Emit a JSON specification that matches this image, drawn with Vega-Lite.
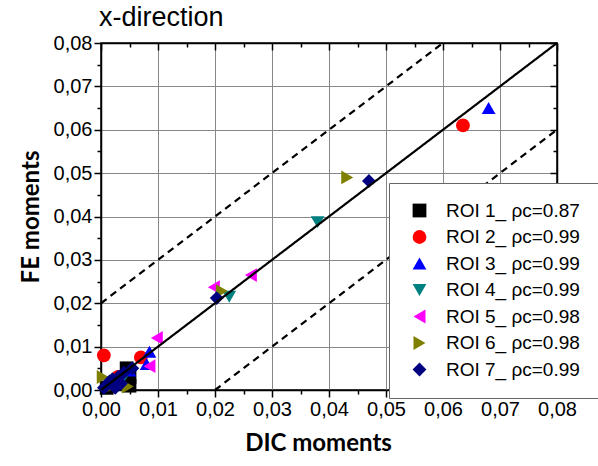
{
  "$schema": "https://vega.github.io/schema/vega-lite/v6.json",
  "width": 456,
  "height": 347,
  "autosize": {"type": "none"},
  "padding": {"left": 101, "top": 43, "right": 41, "bottom": 76},
  "title": {"text": "x-direction", "anchor": "start", "frame": "group", "font": "Liberation Sans", "fontSize": 27, "fontWeight": "normal", "offset": 12, "dy": 11, "dx": -2, "color": "#000"},
  "config": {
    "view": {"stroke": "#000", "strokeWidth": 1.5},
    "axis": {
      "labelFont": "Liberation Sans",
      "labelFontSize": 20,
      "labelColor": "#000",
      "labelFlush": false,
      "domainColor": "#000",
      "domainWidth": 1.5,
      "tickColor": "#000",
      "tickWidth": 1.5,
      "gridColor": "#888",
      "gridWidth": 1,
      "titleFont": "Lato",
      "titleFontSize": 24,
      "titleFontWeight": "bold",
      "titleColor": "#000"
    }
  },
  "datasets": {
    "pts": [
      {"roi": "ROI 1_ ρc=0.87", "dic": 0.001, "fe": 0.0005},
      {"roi": "ROI 1_ ρc=0.87", "dic": 0.002, "fe": 0.0015},
      {"roi": "ROI 1_ ρc=0.87", "dic": 0.003, "fe": 0.002},
      {"roi": "ROI 1_ ρc=0.87", "dic": 0.0045, "fe": 0.005},
      {"roi": "ROI 1_ ρc=0.87", "dic": 0.005, "fe": 0.003},
      {"roi": "ROI 1_ ρc=0.87", "dic": 0.005, "fe": 0.001},
      {"roi": "ROI 2_ ρc=0.99", "dic": 0.0005, "fe": 0.008},
      {"roi": "ROI 2_ ρc=0.99", "dic": 0.007, "fe": 0.0075},
      {"roi": "ROI 2_ ρc=0.99", "dic": 0.0635, "fe": 0.061},
      {"roi": "ROI 2_ ρc=0.99", "dic": 0.003, "fe": 0.003},
      {"roi": "ROI 3_ ρc=0.99", "dic": 0.068, "fe": 0.065},
      {"roi": "ROI 3_ ρc=0.99", "dic": 0.0085, "fe": 0.0088},
      {"roi": "ROI 3_ ρc=0.99", "dic": 0.008, "fe": 0.006},
      {"roi": "ROI 3_ ρc=0.99", "dic": 0.005, "fe": 0.0045},
      {"roi": "ROI 3_ ρc=0.99", "dic": 0.002, "fe": 0.002},
      {"roi": "ROI 4_ ρc=0.99", "dic": 0.038, "fe": 0.0387},
      {"roi": "ROI 4_ ρc=0.99", "dic": 0.0225, "fe": 0.0215},
      {"roi": "ROI 4_ ρc=0.99", "dic": 0.004, "fe": 0.003},
      {"roi": "ROI 4_ ρc=0.99", "dic": 0.002, "fe": 0.0015},
      {"roi": "ROI 5_ ρc=0.98", "dic": 0.0263, "fe": 0.0265},
      {"roi": "ROI 5_ ρc=0.98", "dic": 0.0198, "fe": 0.0237},
      {"roi": "ROI 5_ ρc=0.98", "dic": 0.0098, "fe": 0.012},
      {"roi": "ROI 5_ ρc=0.98", "dic": 0.0085, "fe": 0.0055},
      {"roi": "ROI 5_ ρc=0.98", "dic": 0.003, "fe": 0.002},
      {"roi": "ROI 6_ ρc=0.98", "dic": 0.0432, "fe": 0.049},
      {"roi": "ROI 6_ ρc=0.98", "dic": 0.0212, "fe": 0.0228},
      {"roi": "ROI 6_ ρc=0.98", "dic": 0.0047, "fe": 0.0008},
      {"roi": "ROI 6_ ρc=0.98", "dic": 0.0003, "fe": 0.003},
      {"roi": "ROI 6_ ρc=0.98", "dic": 0.002, "fe": 0.001},
      {"roi": "ROI 7_ ρc=0.99", "dic": 0.047, "fe": 0.0482},
      {"roi": "ROI 7_ ρc=0.99", "dic": 0.0203, "fe": 0.0212},
      {"roi": "ROI 7_ ρc=0.99", "dic": 0.0005, "fe": 0.0005},
      {"roi": "ROI 7_ ρc=0.99", "dic": 0.001, "fe": 0.001},
      {"roi": "ROI 7_ ρc=0.99", "dic": 0.0015, "fe": 0.002},
      {"roi": "ROI 7_ ρc=0.99", "dic": 0.002, "fe": 0.0025},
      {"roi": "ROI 7_ ρc=0.99", "dic": 0.003, "fe": 0.003},
      {"roi": "ROI 7_ ρc=0.99", "dic": 0.0035, "fe": 0.0015},
      {"roi": "ROI 7_ ρc=0.99", "dic": 0.0025, "fe": 0.0005},
      {"roi": "ROI 7_ ρc=0.99", "dic": 0.004, "fe": 0.004},
      {"roi": "ROI 7_ ρc=0.99", "dic": 0.0055, "fe": 0.005}
    ],
    "lines": [
      {"kind": "solid", "x": 0, "y": 0, "x2": 0.08, "y2": 0.08},
      {"kind": "dashed", "x": 0, "y": 0.02, "x2": 0.06, "y2": 0.08},
      {"kind": "dashed", "x": 0.02, "y": 0, "x2": 0.08, "y2": 0.06}
    ]
  },
  "layer": [
    {
      "data": {"name": "pts"},
      "mark": {"type": "point", "filled": true, "opacity": 1, "size": 190, "clip": false},
      "encoding": {
        "x": {
          "field": "dic", "type": "quantitative",
          "scale": {"domain": [0, 0.08], "nice": false, "zero": false},
          "axis": {
            "orient": "bottom", "title": "DIC moments", "titlePadding": 12, "titleX": 217,
            "values": [0, 0.005, 0.01, 0.015, 0.02, 0.025, 0.03, 0.035, 0.04, 0.045, 0.05, 0.055, 0.06, 0.065, 0.07, 0.075, 0.08],
            "labelExpr": "round(datum.value*1000)%10==0 ? replace(format(datum.value,'.2f'),'.',',') : ''",
            "tickSize": {"condition": {"test": "round(datum.value*1000)%10==0", "value": 7}, "value": 4},
            "grid": true,
            "gridOpacity": {"condition": {"test": "round(datum.value*1000)%10==0", "value": 1}, "value": 0},
            "labelPadding": 2
          }
        },
        "y": {
          "field": "fe", "type": "quantitative",
          "scale": {"domain": [0, 0.08], "nice": false, "zero": false},
          "axis": {
            "orient": "left", "title": "FE moments", "titlePadding": 10,
            "values": [0, 0.005, 0.01, 0.015, 0.02, 0.025, 0.03, 0.035, 0.04, 0.045, 0.05, 0.055, 0.06, 0.065, 0.07, 0.075, 0.08],
            "labelExpr": "round(datum.value*1000)%10==0 ? replace(format(datum.value,'.2f'),'.',',') : ''",
            "tickSize": {"condition": {"test": "round(datum.value*1000)%10==0", "value": 7}, "value": 4},
            "grid": true,
            "gridOpacity": {"condition": {"test": "round(datum.value*1000)%10==0", "value": 1}, "value": 0},
            "labelPadding": 2
          }
        },
        "color": {
          "field": "roi", "type": "nominal",
          "scale": {
            "domain": ["ROI 1_ ρc=0.87", "ROI 2_ ρc=0.99", "ROI 3_ ρc=0.99", "ROI 4_ ρc=0.99", "ROI 5_ ρc=0.98", "ROI 6_ ρc=0.98", "ROI 7_ ρc=0.99"],
            "range": ["#000000", "#ff0000", "#0000ff", "#008080", "#ff00ff", "#808000", "#000080"]
          },
          "legend": {
            "title": null, "orient": "none", "legendX": 288, "legendY": 140,
            "strokeColor": "#666", "fillColor": "#ffffff", "padding": 18,
            "labelFont": "Liberation Sans", "labelFontSize": 19, "labelColor": "#000",
            "symbolSize": 190, "symbolStrokeWidth": 0, "symbolOpacity": 1,
            "rowPadding": 6.5, "labelOffset": 17, "symbolOffset": 3, "zindex": 1, "labelLimit": 300
          }
        },
        "shape": {
          "field": "roi", "type": "nominal",
          "scale": {
            "domain": ["ROI 1_ ρc=0.87", "ROI 2_ ρc=0.99", "ROI 3_ ρc=0.99", "ROI 4_ ρc=0.99", "ROI 5_ ρc=0.98", "ROI 6_ ρc=0.98", "ROI 7_ ρc=0.99"],
            "range": ["square", "circle", "triangle-up", "triangle-down", "triangle-left", "triangle-right", "diamond"]
          },
          "legend": {
            "title": null, "orient": "none", "legendX": 288, "legendY": 140,
            "strokeColor": "#666", "fillColor": "#ffffff", "padding": 18,
            "labelFont": "Liberation Sans", "labelFontSize": 19, "labelColor": "#000",
            "symbolSize": 190, "symbolStrokeWidth": 0, "symbolOpacity": 1,
            "rowPadding": 6.5, "labelOffset": 17, "symbolOffset": 3, "zindex": 1, "labelLimit": 300
          }
        }
      }
    },
    {
      "data": {"name": "lines"},
      "mark": {"type": "rule", "color": "#000", "strokeWidth": 2.2},
      "encoding": {
        "x": {
          "field": "x", "type": "quantitative",
          "axis": {
            "orient": "top", "title": null, "labels": false, "grid": false,
            "values": [0, 0.005, 0.01, 0.015, 0.02, 0.025, 0.03, 0.035, 0.04, 0.045, 0.05, 0.055, 0.06, 0.065, 0.07, 0.075, 0.08],
            "tickSize": {"condition": {"test": "round(datum.value*1000)%10==0", "value": -7}, "value": -4}
          }
        },
        "y": {
          "field": "y", "type": "quantitative",
          "axis": {
            "orient": "right", "title": null, "labels": false, "grid": false,
            "values": [0, 0.005, 0.01, 0.015, 0.02, 0.025, 0.03, 0.035, 0.04, 0.045, 0.05, 0.055, 0.06, 0.065, 0.07, 0.075, 0.08],
            "tickSize": {"condition": {"test": "round(datum.value*1000)%10==0", "value": -7}, "value": -4}
          }
        },
        "x2": {"field": "x2"},
        "y2": {"field": "y2"},
        "strokeDash": {
          "field": "kind", "type": "nominal",
          "scale": {"domain": ["solid", "dashed"], "range": [[1, 0], [7, 5]]},
          "legend": null
        }
      }
    }
  ],
  "resolve": {"axis": {"x": "independent", "y": "independent"}}
}
